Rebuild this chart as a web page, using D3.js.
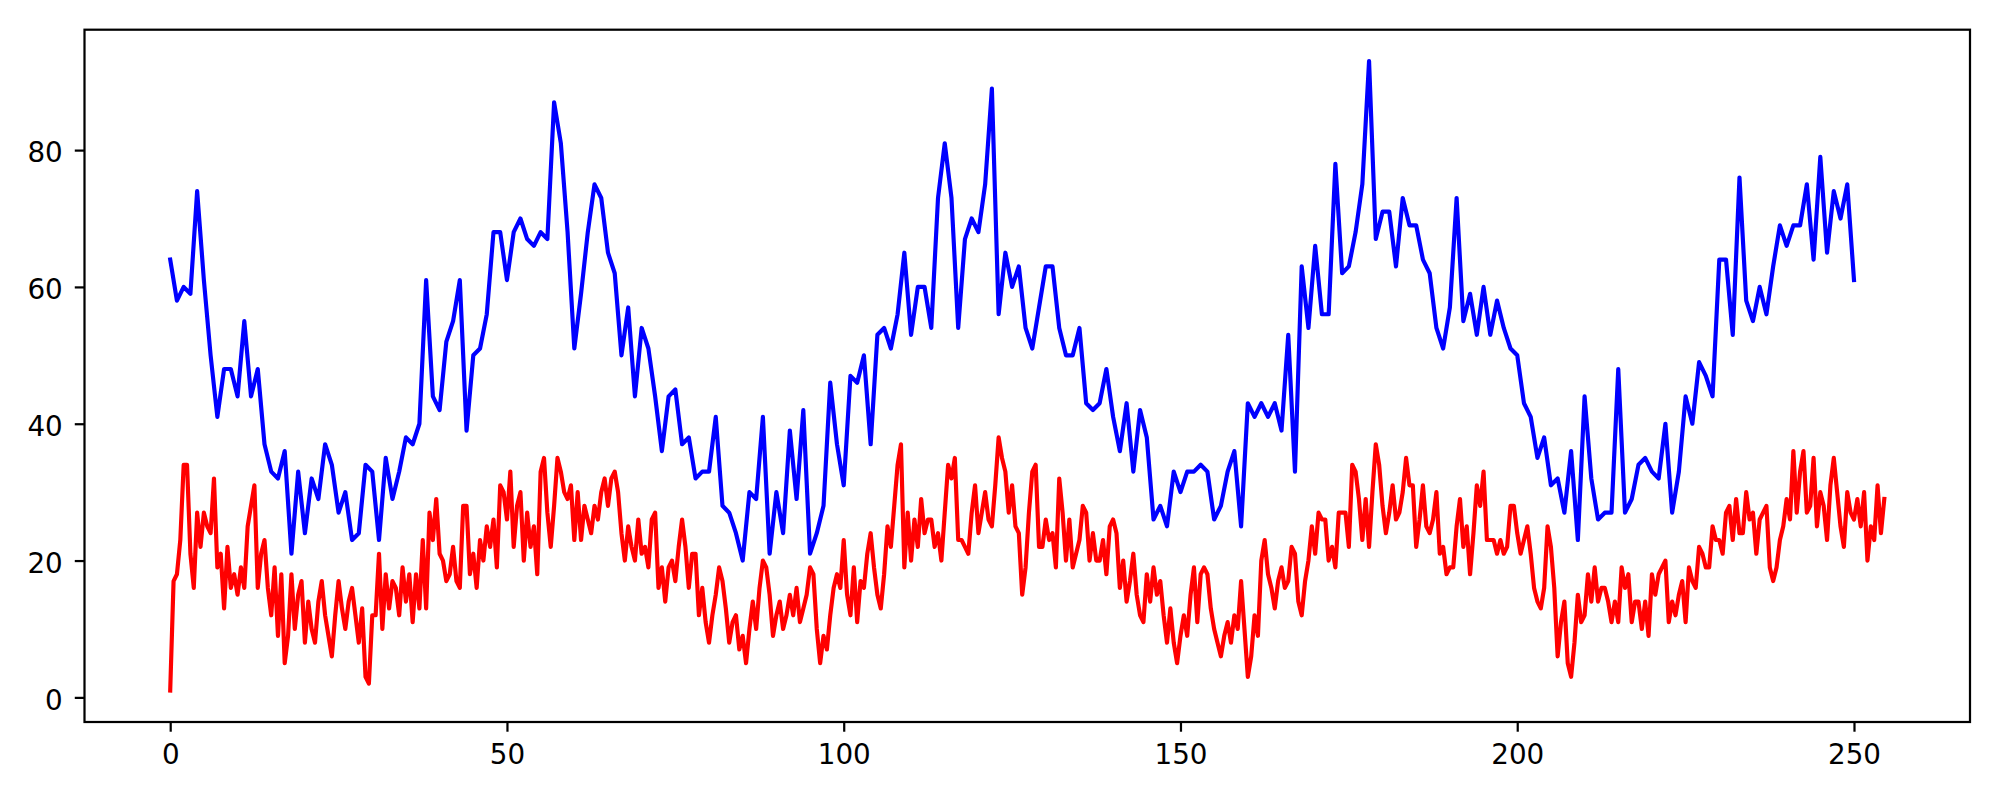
<!DOCTYPE html>
<html>
<head>
<meta charset="utf-8">
<script src="https://cdn.jsdelivr.net/npm/d3@7"></script>
<style>
  html, body { margin: 0; padding: 0; background: #ffffff; }
  svg { display: block; }
  text { font-family: "DejaVu Sans", sans-serif; }
</style>
</head>
<body>
<script>
// ---------------- data ----------------
// blue series: one value per integer x (0..250)
const blueValues = [
  64,58,60,59,74,61,50,41,48,48,
  44,55,44,48,37,33,32,36,21,33,
  24,32,29,37,34,27,30,23,24,34,
  33,23,35,29,33,38,37,40,61,44,
  42,52,55,61,39,50,51,56,68,68,
  61,68,70,67,66,68,67,87,81,68,
  51,59,68,75,73,65,62,50,57,44,
  54,51,44,36,44,45,37,38,32,33,
  33,41,28,27,24,20,30,29,41,21,
  30,24,39,29,42,21,24,28,46,37,
  31,47,46,50,37,53,54,51,56,65,
  53,60,60,54,73,81,73,54,67,70,
  68,75,89,56,65,60,63,54,51,57,
  63,63,54,50,50,54,43,42,43,48,
  41,36,43,33,42,38,26,28,25,33,
  30,33,33,34,33,26,28,33,36,25,
  43,41,43,41,43,39,53,33,63,54,
  66,56,56,78,62,63,68,75,93,67,
  71,71,63,73,69,69,64,62,54,51,
  57,73,55,59,53,60,53,58,54,51,
  50,43,41,35,38,31,32,27,36,23,
  44,32,26,27,27,48,27,29,34,35,
  33,32,40,27,33,44,40,49,47,44,
  64,64,53,76,58,55,60,56,63,69,
  66,69,69,75,64,79,65,74,70,75,
  61
];
const BLUE_STEP = 1;

// red series: one value every 0.5 on x (0..254.5)
const redValues = [
  // 0 .. 40
  1,17,18,23,34,34,21,16,27,22,
  27,25,24,32,19,21,13,22,16,18,
  15,19,16,25,28,31,16,21,23,16,
  12,19,9,18,5,9,18,10,15,17,
  8,14,10,8,14,17,12,9,6,12,
  17,13,10,14,16,12,8,13,3,2,
  12,12,21,10,18,13,17,16,12,19,
  14,18,11,18,13,23,13,27,23,29,
  21,
  // 40.5 .. 81.5
  20,17,18,22,17,16,28,28,18,
  21,16,23,20,25,22,26,19,31,30,
  26,33,22,28,30,20,27,22,25,18,
  33,35,27,22,28,35,33,30,29,31,
  23,30,23,28,26,24,28,26,30,32,
  28,32,33,30,24,20,25,22,20,26,
  21,22,19,26,27,16,19,14,19,20,
  17,22,26,22,16,21,21,12,16,11,
  8,12,15,19,
  // 82 .. 123
  17,13,8,11,12,7,9,5,10,14,
  10,16,20,19,15,9,12,14,10,12,
  15,12,16,11,13,15,19,18,10,5,
  9,7,12,16,18,16,23,15,12,19,
  11,17,16,21,24,19,15,13,18,25,
  22,28,34,37,19,27,20,26,22,29,
  24,26,26,22,24,20,27,34,32,35,
  23,23,22,21,27,31,24,27,30,26,
  25,31,38,
  // 123.5 .. 164.5
  35,33,27,31,25,24,15,19,27,33,
  34,22,22,26,23,24,19,32,27,20,
  26,19,21,23,28,27,20,24,20,20,
  23,18,25,26,24,16,20,14,17,21,
  15,12,11,18,14,19,15,17,12,8,
  13,8,5,9,12,9,15,19,11,18,
  19,18,13,10,8,6,9,11,8,12,
  10,17,10,3,6,12,9,20,23,18,
  16,13,17,
  // 165 .. 206.5
  19,16,17,22,21,14,12,17,20,25,
  21,27,26,26,20,22,19,27,27,27,
  22,34,33,29,23,29,22,30,37,34,
  28,24,27,31,26,27,30,35,31,31,
  22,26,31,25,24,26,30,21,22,18,
  19,19,25,29,22,25,18,24,31,28,
  33,23,23,23,21,23,21,22,28,28,
  24,21,23,25,21,16,14,13,16,25,
  22,16,6,11,
  // 207 .. 254.5
  14,5,3,8,15,11,12,18,14,19,
  14,16,16,14,11,14,11,19,16,18,
  11,14,14,10,14,9,18,15,18,19,
  20,11,14,12,15,17,11,19,17,16,
  22,21,19,19,25,23,23,21,27,28,
  23,29,24,24,30,26,27,21,26,27,
  28,19,17,19,23,25,29,26,36,27,
  33,36,27,28,35,25,30,28,23,31,
  35,30,25,22,30,27,26,29,25,30,
  20,25,23,31,24,29
];
const RED_STEP = 0.5;

const xTickValues = [0, 50, 100, 150, 200, 250];
const yTickValues = [0, 20, 40, 60, 80];

// ---------------- chart ----------------
const W = 2000, H = 800;
const plot = { left: 84.5, right: 1970, top: 29.7, bottom: 722 };
const DPI = 200, PT = DPI / 72;
const FONT = 10 * PT;

const bluePts = blueValues.map((v, i) => [i * BLUE_STEP, v]);
const redPts = redValues.map((v, i) => [i * RED_STEP, v]);
const all = bluePts.concat(redPts);

const xExt = d3.extent(all, d => d[0]);
const yExt = d3.extent(all, d => d[1]);
const xPad = (xExt[1] - xExt[0]) * 0.05;
const yPad = (yExt[1] - yExt[0]) * 0.05;

const x = d3.scaleLinear().domain([xExt[0] - xPad, xExt[1] + xPad]).range([plot.left, plot.right]);
const y = d3.scaleLinear().domain([yExt[0] - yPad, yExt[1] + yPad]).range([plot.bottom, plot.top]);

const svg = d3.select("body").append("svg").attr("width", W).attr("height", H);
svg.append("rect").attr("width", W).attr("height", H).attr("fill", "#ffffff");

svg.append("clipPath").attr("id", "clip")
  .append("rect")
  .attr("x", plot.left).attr("y", plot.top)
  .attr("width", plot.right - plot.left).attr("height", plot.bottom - plot.top);

const line = d3.line().x(d => x(d[0])).y(d => y(d[1]));

const g = svg.append("g").attr("clip-path", "url(#clip)");
g.append("path").datum(bluePts)
  .attr("d", line).attr("fill", "none")
  .attr("stroke", "#0000ff").attr("stroke-width", 1.5 * PT)
  .attr("stroke-linejoin", "round").attr("stroke-linecap", "square");
g.append("path").datum(redPts)
  .attr("d", line).attr("fill", "none")
  .attr("stroke", "#ff0000").attr("stroke-width", 1.5 * PT)
  .attr("stroke-linejoin", "round").attr("stroke-linecap", "square");

// axes
const tickLen = 3.5 * PT;
const xAxis = d3.axisBottom(x).tickValues(xTickValues).tickFormat(d3.format("d"))
  .tickSize(tickLen).tickPadding(12.6);
const yAxis = d3.axisLeft(y).tickValues(yTickValues).tickFormat(d3.format("d"))
  .tickSize(tickLen).tickPadding(12);

const gx = svg.append("g").attr("transform", `translate(0,${plot.bottom})`).call(xAxis);
const gy = svg.append("g").attr("transform", `translate(${plot.left},0)`).call(yAxis);
[gx, gy].forEach(a => {
  a.select(".domain").remove();
  a.selectAll(".tick line").attr("stroke", "#000").attr("stroke-width", 0.8 * PT);
  a.selectAll(".tick text").attr("fill", "#000")
    .style("font-family", "'DejaVu Sans', sans-serif")
    .style("font-size", FONT + "px");
});
gy.selectAll(".tick text").attr("dy", "0.42em");

// frame
svg.append("rect")
  .attr("x", plot.left).attr("y", plot.top)
  .attr("width", plot.right - plot.left).attr("height", plot.bottom - plot.top)
  .attr("fill", "none").attr("stroke", "#000").attr("stroke-width", 0.8 * PT)
  .attr("stroke-linejoin", "miter");
</script>
</body>
</html>
